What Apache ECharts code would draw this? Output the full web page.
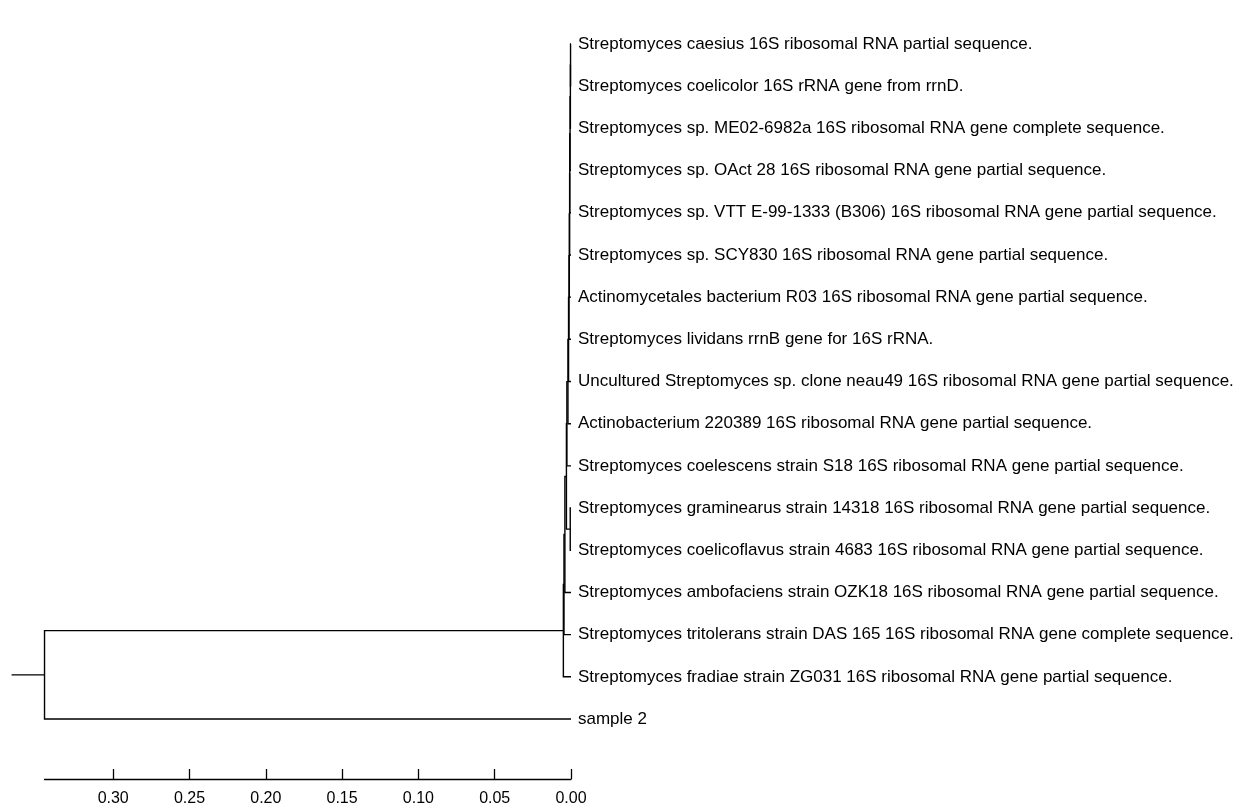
<!DOCTYPE html>
<html>
<head>
<meta charset="utf-8">
<script src="https://cdn.jsdelivr.net/npm/echarts@6/dist/echarts.min.js"></script>
<style>
  html, body { margin: 0; padding: 0; background: #fff; }
  #main { width: 1249px; height: 812px; }
</style>
</head>
<body>
<div id="main"></div>
<script>
// tip labels, top to bottom
var leafNames = [
    'Streptomyces caesius 16S ribosomal RNA partial sequence.',
    'Streptomyces coelicolor 16S rRNA gene from rrnD.',
    'Streptomyces sp. ME02-6982a 16S ribosomal RNA gene complete sequence.',
    'Streptomyces sp. OAct 28 16S ribosomal RNA gene partial sequence.',
    'Streptomyces sp. VTT E-99-1333 (B306) 16S ribosomal RNA gene partial sequence.',
    'Streptomyces sp. SCY830 16S ribosomal RNA gene partial sequence.',
    'Actinomycetales bacterium R03 16S ribosomal RNA gene partial sequence.',
    'Streptomyces lividans rrnB gene for 16S rRNA.',
    'Uncultured Streptomyces sp. clone neau49 16S ribosomal RNA gene partial sequence.',
    'Actinobacterium 220389 16S ribosomal RNA gene partial sequence.',
    'Streptomyces coelescens strain S18 16S ribosomal RNA gene partial sequence.',
    'Streptomyces graminearus strain 14318 16S ribosomal RNA gene partial sequence.',
    'Streptomyces coelicoflavus strain 4683 16S ribosomal RNA gene partial sequence.',
    'Streptomyces ambofaciens strain OZK18 16S ribosomal RNA gene partial sequence.',
    'Streptomyces tritolerans strain DAS 165 16S ribosomal RNA gene complete sequence.',
    'Streptomyces fradiae strain ZG031 16S ribosomal RNA gene partial sequence.',
    'sample 2'
];

// joins: [child a, child b, node height]; ids >= leafNames.length are earlier joins
var merges = [
    [0, 1, 0.0003],
    [17, 2, 0.0004],
    [18, 3, 0.0006],
    [19, 4, 0.0008],
    [20, 5, 0.0009],
    [21, 6, 0.0011],
    [22, 7, 0.0013],
    [23, 8, 0.0016],
    [24, 9, 0.0020],
    [25, 10, 0.0027],
    [11, 12, 0.0005],
    [26, 27, 0.0030],
    [28, 13, 0.0040],
    [29, 14, 0.0046],
    [30, 15, 0.0050],
    [31, 16, 0.345]
];

var rootStub = 0.0216;
var scaleTicks = [0, 0.05, 0.10, 0.15, 0.20, 0.25, 0.30];

// node positions: height + row
var nodeH = [], nodeY = [];
for (var i = 0; i < leafNames.length; i++) {
    nodeH.push(0);
    nodeY.push(i);
}
var segs = [];
merges.forEach(function (m) {
    var a = m[0], b = m[1], h = m[2];
    segs.push([h, nodeY[a], nodeY[b], nodeH[a], nodeH[b]]);
    nodeH.push(h);
    nodeY.push((nodeY[a] + nodeY[b]) / 2);
});
var root = nodeH.length - 1;
var rootH = nodeH[root];
// stub left of the root
segs.push([rootH, nodeY[root], nodeY[root], rootH + rootStub, rootH + rootStub]);

var pxPerUnit = 1526;
var tipX = 571;
var treeW = (rootH + rootStub) * pxPerUnit;
var barW = rootH * pxPerUnit;
var font = '"Liberation Sans", Arial, sans-serif';

var myChart = echarts.init(document.getElementById('main'));

var option = {
    backgroundColor: '#fff',
    animation: false,
    grid: [
        { left: tipX - treeW, width: treeW, top: 44, height: 675 },
        { left: tipX - barW, width: barW, top: 700, height: 79 }
    ],
    xAxis: [
        {
            gridIndex: 0, type: 'value', inverse: true, min: 0, max: rootH + rootStub,
            show: false
        },
        {
            gridIndex: 1, type: 'value', inverse: true, min: 0, max: rootH,
            axisLine: { show: true, onZero: false, lineStyle: { color: '#000', width: 1.4 } },
            axisTick: { show: true, inside: true, length: 10, customValues: scaleTicks, lineStyle: { color: '#000', width: 1.3 } },
            axisLabel: {
                customValues: scaleTicks, margin: 12, color: '#000', fontSize: 16, fontFamily: font,
                formatter: function (v) { return v.toFixed(2); }
            },
            splitLine: { show: false }
        }
    ],
    yAxis: [
        {
            gridIndex: 0, type: 'value', inverse: true, min: 0, max: leafNames.length - 1,
            show: false
        },
        {
            gridIndex: 0, type: 'category', inverse: true, position: 'right', boundaryGap: false,
            data: leafNames,
            axisLine: { show: false },
            axisTick: { show: false },
            axisLabel: { margin: 7, color: '#000', fontSize: 17, fontFamily: font, interval: 0 }
        },
        {
            gridIndex: 1, type: 'value', show: false
        }
    ],
    series: [
        {
            type: 'custom',
            xAxisIndex: 0,
            yAxisIndex: 0,
            silent: true,
            data: segs,
            encode: { x: 0, y: 1 },
            renderItem: function (params, api) {
                var h = api.value(0), ya = api.value(1), yb = api.value(2);
                var ha = api.value(3), hb = api.value(4);
                return {
                    type: 'polyline',
                    shape: {
                        points: [
                            api.coord([ha, ya]),
                            api.coord([h, ya]),
                            api.coord([h, yb]),
                            api.coord([hb, yb])
                        ]
                    },
                    style: { stroke: '#000', lineWidth: 1.4, fill: null }
                };
            }
        }
    ]
};

myChart.setOption(option);
window.onresize = myChart.resize;
</script>
</body>
</html>
